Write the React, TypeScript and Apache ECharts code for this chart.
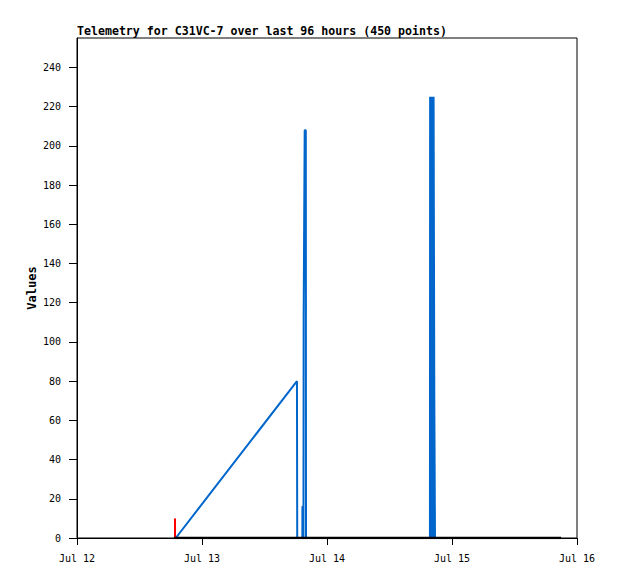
import React, { useEffect, useRef } from "react";
import * as echarts from "echarts";

const titleText = "Telemetry for C31VC-7 over last 96 hours (450 points)";
const yAxisName = "Values";
const xMin = "2024-07-12 00:00";
const xMax = "2024-07-16 00:00";
const monthNames = ["Jan", "Feb", "Mar", "Apr", "May", "Jun", "Jul", "Aug", "Sep", "Oct", "Nov", "Dec"];

// Blue series (null = gap)
const blueTimes = [
  "2024-07-12 18:58", "2024-07-13 18:14", "2024-07-13 18:17",
  "2024-07-13 19:16", "2024-07-13 19:17", "2024-07-13 19:27", "2024-07-13 19:29",
  "2024-07-13 19:31", "2024-07-13 19:37", "2024-07-13 19:43", "2024-07-13 19:56", "2024-07-13 19:58",
  "2024-07-14 06:00",
  "2024-07-14 19:46", "2024-07-14 19:48", "2024-07-14 19:53", "2024-07-14 19:58", "2024-07-14 20:03",
  "2024-07-14 20:08", "2024-07-14 20:13", "2024-07-14 20:18", "2024-07-14 20:23", "2024-07-14 20:28",
  "2024-07-14 20:33", "2024-07-14 20:36", "2024-07-14 20:42", "2024-07-14 20:44",
];
const blueValues = [
  0, 80, 0,
  0, 16, 16, 0,
  112, 112, 208, 208, 0,
  null,
  0, 225, 0, 225, 0,
  225, 0, 225, 0, 225,
  225, 73, 73, 0,
];

// Red series
const redTimes = ["2024-07-12 18:49", "2024-07-12 18:49"];
const redValues = [10, 0];

// Black baseline series
const blackTimes = ["2024-07-12 18:40", "2024-07-15 20:56"];
const blackValues = [0, 0];

const App: React.FC = () => {
  const ref = useRef<HTMLDivElement>(null);

  useEffect(() => {
    document.body.style.margin = "0";
    if (!ref.current) return;
    const chart = echarts.init(ref.current, null, { renderer: "svg" });
    const mono = "DejaVu Sans Mono";
    chart.setOption({
      animation: false,
      backgroundColor: "#ffffff",
      title: {
        text: titleText,
        left: 77,
        top: 25,
        padding: 0,
        textStyle: { fontFamily: mono, fontSize: 11.6, fontWeight: "bold", color: "#000" },
      },
      graphic: [
        {
          type: "text",
          x: 32,
          y: 288,
          rotation: Math.PI / 2,
          style: {
            text: yAxisName,
            fontFamily: mono,
            fontSize: 12,
            fontWeight: "bold",
            fill: "#000",
            align: "center",
            verticalAlign: "middle",
          },
        },
      ],
      grid: {
        left: 77,
        right: 41,
        top: 38,
        bottom: 41,
        show: true,
        borderColor: "#000",
        borderWidth: 1,
        backgroundColor: "transparent",
      },
      xAxis: {
        type: "time",
        min: xMin,
        max: xMax,
        interval: 24 * 3600 * 1000,
        splitLine: { show: false },
        axisLine: { lineStyle: { color: "#000", width: 1 } },
        axisTick: { show: true, length: 7, lineStyle: { color: "#000" } },
        axisLabel: {
          color: "#000",
          fontFamily: mono,
          fontSize: 10,
          margin: 15,
          showMinLabel: true,
          showMaxLabel: true,
          formatter: (v: number) => {
            const d = new Date(v);
            return monthNames[d.getMonth()] + " " + d.getDate();
          },
        },
      },
      yAxis: {
        type: "value",
        min: 0,
        max: 255,
        interval: 20,
        splitLine: { show: false },
        axisLine: { show: true, lineStyle: { color: "#000", width: 1 } },
        axisTick: { show: true, length: 8, lineStyle: { color: "#000" } },
        axisLabel: {
          color: "#000",
          fontFamily: mono,
          fontSize: 10,
          margin: 16,
          showMaxLabel: false,
        },
      },
      series: [
        {
          type: "line",
          data: blueTimes.map((t, i) => [t, blueValues[i]]),
          showSymbol: false,
          connectNulls: false,
          lineStyle: { color: "#0066cc", width: 2 },
          itemStyle: { color: "#0066cc" },
          z: 2,
        },
        {
          type: "line",
          data: redTimes.map((t, i) => [t, redValues[i]]),
          showSymbol: false,
          lineStyle: { color: "#ff0000", width: 2 },
          itemStyle: { color: "#ff0000" },
          z: 3,
        },
        {
          type: "line",
          data: blackTimes.map((t, i) => [t, blackValues[i]]),
          showSymbol: false,
          lineStyle: { color: "#000000", width: 2.5 },
          itemStyle: { color: "#000000" },
          z: 4,
        },
      ],
    });
    return () => chart.dispose();
  }, []);

  return <div ref={ref} style={{ width: 618, height: 579 }} />;
};

export default App;
